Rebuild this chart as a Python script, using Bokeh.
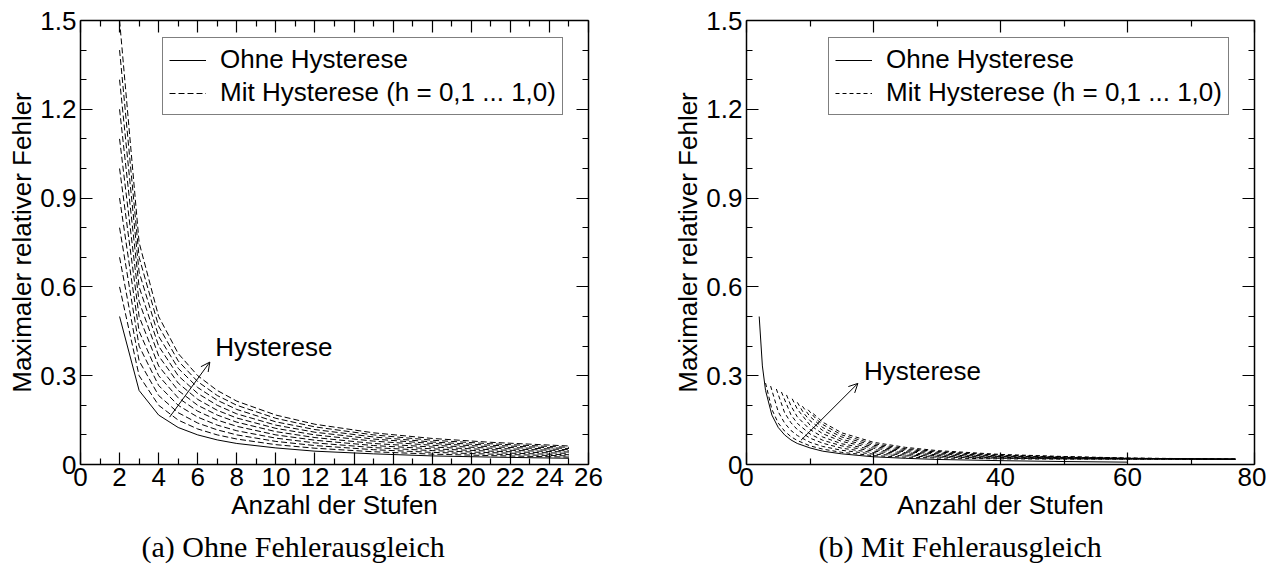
from bokeh.plotting import figure
from bokeh.models import (FixedTicker, LinearAxis, Range1d, Legend, LegendItem,
                          Arrow, OpenHead, Label, Title)
from bokeh.layouts import row
from bokeh.embed import file_html
from bokeh.resources import INLINE

# ---------------- data: (a) Ohne Fehlerausgleich ----------------
a_n = [2, 3, 4, 5, 6, 7, 8, 10, 12, 15, 18, 21, 25]
a_ohne = [0.5, 0.25, 0.167, 0.125, 0.1, 0.083, 0.071, 0.056, 0.045, 0.036, 0.029, 0.025, 0.021]
a_mit = [
    [0.6, 0.3, 0.2, 0.15, 0.12, 0.1, 0.086, 0.067, 0.055, 0.043, 0.035, 0.03, 0.025],
    [0.7, 0.35, 0.233, 0.175, 0.14, 0.117, 0.1, 0.078, 0.064, 0.05, 0.041, 0.035, 0.029],
    [0.8, 0.4, 0.267, 0.2, 0.16, 0.133, 0.114, 0.089, 0.073, 0.057, 0.047, 0.04, 0.033],
    [0.9, 0.45, 0.3, 0.225, 0.18, 0.15, 0.129, 0.1, 0.082, 0.064, 0.053, 0.045, 0.0375],
    [1.0, 0.5, 0.333, 0.25, 0.2, 0.167, 0.143, 0.111, 0.091, 0.071, 0.059, 0.05, 0.042],
    [1.1, 0.55, 0.367, 0.275, 0.22, 0.183, 0.157, 0.122, 0.1, 0.079, 0.065, 0.055, 0.046],
    [1.2, 0.6, 0.4, 0.3, 0.24, 0.2, 0.171, 0.133, 0.109, 0.086, 0.071, 0.06, 0.05],
    [1.3, 0.65, 0.433, 0.325, 0.26, 0.217, 0.186, 0.144, 0.118, 0.093, 0.076, 0.065, 0.054],
    [1.4, 0.7, 0.467, 0.35, 0.28, 0.233, 0.2, 0.156, 0.127, 0.1, 0.082, 0.07, 0.058],
    [1.5, 0.75, 0.5, 0.375, 0.3, 0.25, 0.214, 0.167, 0.136, 0.107, 0.088, 0.075, 0.0625],
]

# ---------------- data: (b) Mit Fehlerausgleich ----------------
b_ohne_n = [2, 2.5, 3, 4, 5, 6, 7, 8, 10, 12, 15, 20, 25, 30, 40, 50, 60]
b_ohne = [0.5, 0.333, 0.25, 0.167, 0.125, 0.1, 0.083, 0.071, 0.056, 0.045, 0.036, 0.026,
          0.021, 0.017, 0.013, 0.010, 0.008]
b_mit_n = [
    [3, 4, 5, 6, 7, 8, 10, 12, 15, 20, 25, 30, 40, 50, 60, 77],
    [3.8, 5, 6, 7, 8, 10, 12, 15, 20, 25, 30, 40, 50, 60, 77],
    [4.7, 6, 7, 8, 10, 12, 15, 20, 25, 30, 40, 50, 60, 77],
    [5.5, 7, 8, 10, 12, 15, 20, 25, 30, 40, 50, 60, 77],
    [6.3, 7, 8, 10, 12, 15, 20, 25, 30, 40, 50, 60, 77],
    [7.2, 8, 10, 12, 15, 20, 25, 30, 40, 50, 60, 77],
    [8, 9, 10, 12, 15, 20, 25, 30, 40, 50, 60, 77],
    [8.8, 10, 12, 15, 20, 25, 30, 40, 50, 60, 77],
    [9.7, 11, 12, 15, 20, 25, 30, 40, 50, 60, 77],
    [10.5, 12, 15, 20, 25, 30, 40, 50, 60, 77],
]
b_mit = [
    [0.275, 0.186, 0.140, 0.113, 0.094, 0.081, 0.063, 0.052, 0.041, 0.030, 0.025, 0.022, 0.019, 0.018, 0.018, 0.018],
    [0.265, 0.178, 0.140, 0.115, 0.098, 0.075, 0.061, 0.048, 0.035, 0.029, 0.025, 0.021, 0.019, 0.018, 0.018],
    [0.255, 0.175, 0.141, 0.118, 0.089, 0.072, 0.055, 0.040, 0.032, 0.028, 0.022, 0.020, 0.019, 0.018],
    [0.245, 0.168, 0.139, 0.103, 0.082, 0.063, 0.045, 0.036, 0.030, 0.024, 0.021, 0.019, 0.018],
    [0.235, 0.198, 0.161, 0.118, 0.093, 0.070, 0.050, 0.040, 0.033, 0.026, 0.022, 0.020, 0.018],
    [0.222, 0.187, 0.133, 0.104, 0.078, 0.055, 0.043, 0.036, 0.027, 0.023, 0.020, 0.018],
    [0.210, 0.174, 0.148, 0.115, 0.085, 0.060, 0.047, 0.039, 0.029, 0.024, 0.021, 0.018],
    [0.197, 0.162, 0.125, 0.093, 0.065, 0.051, 0.042, 0.031, 0.025, 0.021, 0.018],
    [0.185, 0.153, 0.135, 0.100, 0.070, 0.054, 0.044, 0.032, 0.026, 0.021, 0.018],
    [0.172, 0.143, 0.107, 0.075, 0.058, 0.047, 0.034, 0.027, 0.022, 0.018],
]

y_ticks = [0, 0.3, 0.6, 0.9, 1.2, 1.5]
y_minor = [0.1, 0.2, 0.4, 0.5, 0.7, 0.8, 1.0, 1.1, 1.3, 1.4]
a_x_ticks = list(range(0, 27, 2))
a_x_minor = list(range(1, 26, 2))
b_x_ticks = [0, 20, 40, 60, 80]
b_x_minor = [10, 30, 50, 70]

LEG_SOLID = "Ohne Hysterese"
LEG_DASH = "Mit Hysterese (h = 0,1 ... 1,0)"
XLABEL = "Anzahl der Stufen"
YLABEL = "Maximaler relativer Fehler"

SANS = "Liberation Sans"
SERIF = "Liberation Serif"
FS = "26px"


def style_axis(ax, labels=True):
    ax.major_tick_in = 12
    ax.major_tick_out = 0
    ax.minor_tick_in = 6
    ax.minor_tick_out = 0
    ax.axis_line_width = 1.5
    ax.major_tick_line_width = 1.2
    ax.minor_tick_line_width = 1.2
    ax.axis_line_color = "black"
    ax.major_tick_line_color = "black"
    ax.minor_tick_line_color = "black"
    if labels:
        ax.major_label_text_font = SANS
        ax.major_label_text_font_size = FS
        ax.major_label_text_color = "black"
        ax.axis_label_text_font = SANS
        ax.axis_label_text_font_size = FS
        ax.axis_label_text_font_style = "normal"
        ax.axis_label_text_color = "black"
    else:
        ax.major_label_text_color = None
        ax.major_label_text_font_size = "1px"
        ax.major_label_standoff = 0


def make_plot(xmax, xt, xm, caption, border_left, border_right, cap_offset):
    p = figure(frame_width=508, frame_height=444,
               x_range=Range1d(0, xmax), y_range=Range1d(0, 1.5),
               output_backend="svg", toolbar_location=None,
               min_border_left=border_left, min_border_right=border_right,
               min_border_top=20, min_border_bottom=93)
    p.grid.visible = False
    p.outline_line_color = None
    p.background_fill_color = "white"
    xtick = FixedTicker(ticks=xt, minor_ticks=xm)
    ytick = FixedTicker(ticks=y_ticks, minor_ticks=y_minor)
    p.xaxis.ticker = xtick
    p.yaxis.ticker = ytick
    p.yaxis.major_label_overrides = {0: "0"}
    p.xaxis.axis_label = XLABEL
    p.yaxis.axis_label = YLABEL
    for ax in p.xaxis + p.yaxis:
        style_axis(ax, True)
    p.xaxis.major_label_standoff = 3
    p.yaxis.major_label_standoff = 4
    p.xaxis.axis_label_standoff = 1
    p.yaxis.axis_label_standoff = 0
    top = LinearAxis(ticker=FixedTicker(ticks=xt, minor_ticks=xm))
    right = LinearAxis(ticker=FixedTicker(ticks=y_ticks, minor_ticks=y_minor))
    style_axis(top, False)
    style_axis(right, False)
    p.add_layout(top, "above")
    p.add_layout(right, "right")
    t = Title(text=caption, align="left", text_font=SERIF, text_font_size="30px",
              text_font_style="normal", text_color="black", offset=cap_offset)
    p.add_layout(t, "below")
    return p


def add_legend(p, r_solid, r_dash):
    leg = Legend(items=[LegendItem(label=LEG_SOLID, renderers=[r_solid]),
                        LegendItem(label=LEG_DASH, renderers=[r_dash])],
                 location=(82, 349))
    leg.border_line_color = "black"
    leg.border_line_width = 1
    leg.label_text_font = SANS
    leg.label_text_font_size = FS
    leg.label_text_color = "black"
    leg.glyph_width = 37
    leg.glyph_height = 28
    leg.label_height = 28
    leg.spacing = 2
    leg.padding = 6
    leg.margin = 0
    leg.label_standoff = 14
    p.add_layout(leg)


# ---- left plot ----
pa = make_plot(26, a_x_ticks, a_x_minor, "(a) Ohne Fehlerausgleich", 80, 48, 61)
ra_solid = pa.line(a_n, a_ohne, line_color="black", line_width=1)
ra_dash = None
for ys in a_mit:
    r = pa.line(a_n, ys, line_color="black", line_width=1, line_dash="6 3")
    if ra_dash is None:
        ra_dash = r
add_legend(pa, ra_solid, ra_dash)
pa.add_layout(Arrow(x_start=4.56, y_start=0.16, x_end=6.62, y_end=0.346,
                    line_width=1, line_color="black",
                    end=OpenHead(size=9, line_width=1, line_color="black")))
pa.add_layout(Label(x=6.9, y=0.397, text="Hysterese", text_font=SANS,
                    text_font_size=FS, text_color="black", text_baseline="alphabetic"))

# ---- right plot ----
pb = make_plot(80, b_x_ticks, b_x_minor, "(b) Mit Fehlerausgleich", 110, 12, 72)
rb_solid = pb.line(b_ohne_n, b_ohne, line_color="black", line_width=1)
rb_dash = None
for xs, ys in zip(b_mit_n, b_mit):
    r = pb.line(xs, ys, line_color="black", line_width=1, line_dash="4 3")
    if rb_dash is None:
        rb_dash = r
add_legend(pb, rb_solid, rb_dash)
pb.add_layout(Arrow(x_start=8.58, y_start=0.082, x_end=17.54, y_end=0.274,
                    line_width=1, line_color="black",
                    end=OpenHead(size=9, line_width=1, line_color="black")))
pb.add_layout(Label(x=18.5, y=0.315, text="Hysterese", text_font=SANS,
                    text_font_size=FS, text_color="black", text_baseline="alphabetic"))

layout = row(pa, pb)
open("out.html", "w").write(file_html(layout, INLINE))
